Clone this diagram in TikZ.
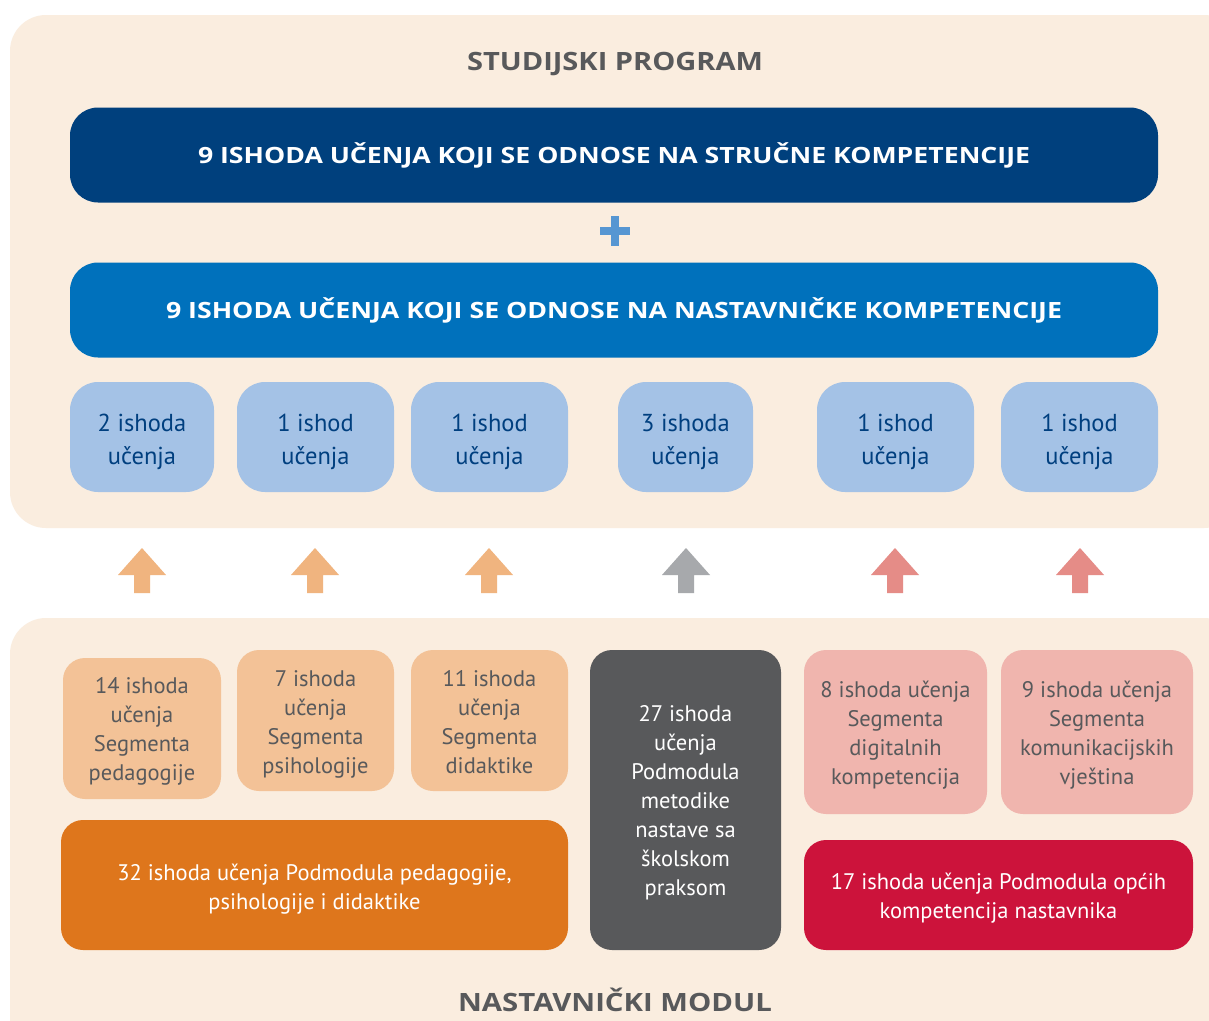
\documentclass[tikz,border=0pt]{standalone}
\usepackage{fontspec}
\setmainfont{PT Sans}
\newfontfamily\hdfont{Open Sans}
\newsavebox\fitbox
\newlength\fitlen
\newcommand\fitw[2]{\sbox\fitbox{#2}\setlength\fitlen{\wd\fitbox}\pgfmathsetmacro\fitfac{#1/\fitlen}\scalebox{\fitfac}[1]{\usebox\fitbox}}
\definecolor{panel}{RGB}{250,237,223}
\definecolor{titlegray}{RGB}{88,89,91}
\definecolor{darkblue}{RGB}{0,64,125}
\definecolor{midblue}{RGB}{0,113,188}
\definecolor{plusblue}{RGB}{86,150,210}
\definecolor{lightblue}{RGB}{164,194,230}
\definecolor{navytext}{RGB}{0,63,127}
\definecolor{lightorange}{RGB}{243,194,151}
\definecolor{orange}{RGB}{222,118,28}
\definecolor{slate}{RGB}{88,89,91}
\definecolor{lightpink}{RGB}{240,181,174}
\definecolor{crimson}{RGB}{204,19,59}
\definecolor{arrorange}{RGB}{240,180,127}
\definecolor{arrgray}{RGB}{167,169,172}
\definecolor{arrpink}{RGB}{229,140,135}
\begin{document}
\begin{tikzpicture}[x=1pt,y=-1pt,
  box/.style={rounded corners=28pt,inner sep=0pt,align=center,anchor=center},
  lastbase/.style={text height=#1,text depth=0pt},
  bar/.style={box,text=white,font=\hdfont\bfseries\fontsize{22.4}{28}\selectfont},
  outbox/.style={box,fill=lightblue,text=navytext,font=\fontsize{24.5}{33}\selectfont,lastbase=54pt},
  segbox/.style={box,rounded corners=22pt,text=titlegray,font=\fontsize{22.5}{29}\selectfont,lastbase=105pt},
  modbox/.style={box,rounded corners=22pt,text=white,font=\fontsize{22.5}{29}\selectfont},
  ttl/.style={text=titlegray,font=\hdfont\bfseries\fontsize{25.2}{30}\selectfont}]
\useasboundingbox (0,0) rectangle (1209,1020);
\fill[white] (0,0) rectangle (1209,1020);
% panels
\fill[panel,rounded corners=36pt] (10,15) rectangle (1240,528);
\fill[panel,rounded corners=36pt] (10,618) rectangle (1240,1060);
\node[ttl] (t1) at (615,64) {\fitw{296}{STUDIJSKI PROGRAM}};
\node[ttl] (t2) at (615,1000) {\fitw{314}{NASTAVNIČKI MODUL}};
% bars
\node[bar,fill=darkblue,minimum width=1088pt,minimum height=95pt] (b1) at (614,155) {\fitw{832}{9 ISHODA UČENJA KOJI SE ODNOSE NA STRUČNE KOMPETENCIJE}};
\node[bar,fill=midblue,minimum width=1088pt,minimum height=95pt] (b2) at (614,310) {\fitw{896}{9 ISHODA UČENJA KOJI SE ODNOSE NA NASTAVNIČKE KOMPETENCIJE}};
\coordinate (plus) at (615,231);
\fill[plusblue] ([xshift=-15pt,yshift=-4pt]plus) rectangle ([xshift=15pt,yshift=4pt]plus);
\fill[plusblue] ([xshift=-4pt,yshift=-15pt]plus) rectangle ([xshift=4pt,yshift=15pt]plus);
% outcome boxes
\node[outbox,minimum width=144pt,minimum height=110pt] (o1) at (142,437) {2 ishoda\\učenja};
\node[outbox,minimum width=157pt,minimum height=110pt] (o2) at (315.5,437) {1 ishod\\učenja};
\node[outbox,minimum width=157pt,minimum height=110pt] (o3) at (489.5,437) {1 ishod\\učenja};
\node[outbox,minimum width=135pt,minimum height=110pt] (o4) at (685.5,437) {3 ishoda\\učenja};
\node[outbox,minimum width=157pt,minimum height=110pt] (o5) at (895.5,437) {1 ishod\\učenja};
\node[outbox,minimum width=157pt,minimum height=110pt] (o6) at (1079.5,437) {1 ishod\\učenja};
% arrows
\foreach \x/\c in {142/arrorange,315/arrorange,489/arrorange,686/arrgray,895/arrpink,1080/arrpink}{
  \fill[\c] (\x-24,575) -- (\x,548) -- (\x+24,575) -- (\x+8,575) -- (\x+8,593) -- (\x-8,593) -- (\x-8,575) -- cycle;
}
% segment boxes
\node[segbox,fill=lightorange,minimum width=158pt,minimum height=141pt,lastbase=104pt] (s1) at (142,728.5) {14 ishoda\\učenja\\Segmenta\\pedagogije};
\node[segbox,fill=lightorange,minimum width=157pt,minimum height=141pt] (s2) at (315.5,720.5) {7 ishoda\\učenja\\Segmenta\\psihologije};
\node[segbox,fill=lightorange,minimum width=157pt,minimum height=141pt] (s3) at (489.5,720.5) {11 ishoda\\učenja\\Segmenta\\didaktike};
\node[segbox,fill=lightpink,minimum width=183pt,minimum height=164pt] (s4) at (895.5,732) {8 ishoda učenja\\Segmenta\\digitalnih\\kompetencija};
\node[segbox,fill=lightpink,minimum width=192pt,minimum height=164pt] (s5) at (1097,732) {9 ishoda učenja\\Segmenta\\komunikacijskih\\vještina};
% module boxes
\node[modbox,fill=orange,minimum width=507pt,minimum height=130pt,lastbase=49pt] (m1) at (314.5,885) {32 ishoda učenja Podmodula pedagogije,\\psihologije i didaktike};
\node[modbox,fill=slate,minimum width=191pt,minimum height=300pt,lastbase=191pt] (m2) at (685.5,800) {27 ishoda\\učenja\\Podmodula\\metodike\\nastave sa\\školskom\\praksom};
\node[modbox,fill=crimson,minimum width=389pt,minimum height=110pt,lastbase=47pt] (m3) at (998.5,895) {17 ishoda učenja Podmodula općih\\kompetencija nastavnika};
\end{tikzpicture}
\end{document}
